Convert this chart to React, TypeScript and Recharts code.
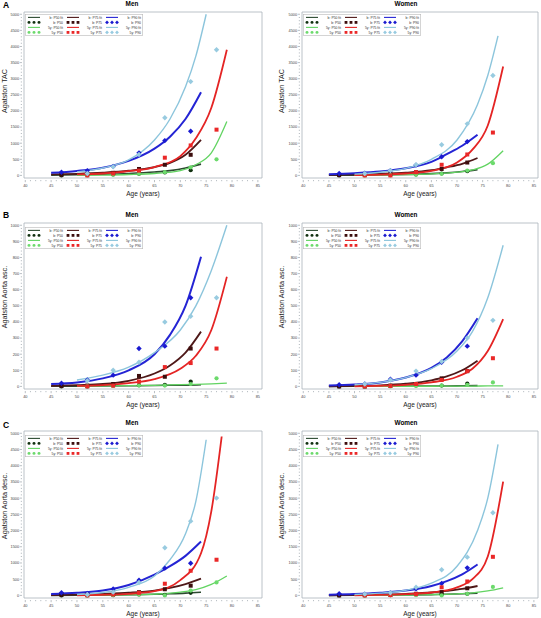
import {
  ComposedChart,
  Line,
  Scatter,
  XAxis,
  YAxis,
  ReferenceArea,
  Legend,
  Label,
} from 'recharts'

const FONT = '"Liberation Sans", Arial, Helvetica, sans-serif'

type Pct = 'p50' | 'p75' | 'p90'
type Set3 = Record<Pct, number[]>

const PCTS: Pct[] = ['p50', 'p75', 'p90']
const PCT_LABELS = ['P50', 'P75', 'P90']

// ages
const FIT_AGES_B = [45, 50, 55, 60, 65, 68, 71, 74]
const FIT_AGES_5Y = [50, 55, 60, 65, 70, 73, 76, 79]
const FIT_AGES_5Y_TO78 = [50, 55, 60, 65, 70, 74, 76, 78]
const FIT_AGES_5Y_TO75 = [50, 55, 60, 65, 68, 71, 73, 75]
const PT_AGES_B = [47, 52, 57, 62, 67, 72]
const PT_AGES_5Y = [52, 57, 62, 67, 72, 77]

const X_TICKS = [40, 45, 50, 55, 60, 65, 70, 75, 80, 85]
const Y_TICKS_5000 = [0, 500, 1000, 1500, 2000, 2500, 3000, 3500, 4000, 4500, 5000]
const Y_TICKS_1000 = [0, 100, 200, 300, 400, 500, 600, 700, 800, 900, 1000]

// A - Agatston TAC, men
const tacMenFitB: Set3 = {
  p50: [10, 20, 35, 60, 105, 150, 230, 350],
  p75: [30, 50, 85, 145, 260, 390, 640, 1100],
  p90: [80, 140, 240, 450, 830, 1200, 1750, 2580],
}
const tacMenFit5y: Set3 = {
  p50: [5, 12, 28, 60, 150, 330, 700, 1670],
  p75: [30, 60, 130, 260, 600, 1150, 2100, 3900],
  p90: [110, 230, 480, 1100, 1750, 2750, 3700, 5000],
}
const tacMenPtsB: Set3 = {
  p50: [0, 10, 30, 50, 90, 160],
  p75: [20, 40, 80, 200, 330, 640],
  p90: [100, 150, 280, 700, 1080, 1370],
}
const tacMenPts5y: Set3 = {
  p50: [0, 20, 50, 100, 250, 500],
  p75: [0, 60, 150, 550, 930, 1420],
  p90: [60, 270, 650, 1790, 2910, 3900],
}

// A - Agatston TAC, women
const tacWomenFitB: Set3 = {
  p50: [5, 10, 18, 30, 55, 80, 120, 180],
  p75: [15, 30, 50, 85, 160, 250, 360, 540],
  p90: [40, 70, 120, 220, 420, 660, 920, 1260],
}
const tacWomenFit5y: Set3 = {
  p50: [5, 10, 25, 45, 100, 170, 350, 765],
  p75: [10, 25, 60, 140, 400, 800, 1550, 3380],
  p90: [40, 100, 220, 500, 1100, 2200, 3100, 4330],
}
const tacWomenPtsB: Set3 = {
  p50: [0, 5, 10, 30, 60, 130],
  p75: [10, 20, 40, 100, 200, 400],
  p90: [60, 70, 150, 320, 580, 1050],
}
const tacWomenPts5y: Set3 = {
  p50: [0, 10, 20, 50, 150, 380],
  p75: [0, 0, 100, 330, 650, 1330],
  p90: [60, 150, 330, 950, 1600, 3100],
}

// B - ascending aorta, men
const ascMenFitB: Set3 = {
  p50: [1, 2, 3, 4, 6, 7, 8, 10],
  p75: [3, 8, 15, 35, 80, 130, 210, 340],
  p90: [15, 25, 50, 100, 200, 320, 500, 805],
}
const ascMenFit5y: Set3 = {
  p50: [2, 3, 5, 7, 11, 13, 16, 20],
  p75: [3, 8, 20, 45, 110, 190, 350, 680],
  p90: [40, 70, 120, 210, 350, 500, 720, 1000],
}
const ascMenPtsB: Set3 = {
  p50: [0, 0, 5, 8, 10, 30],
  p75: [3, 5, 15, 65, 60, 235],
  p90: [20, 40, 70, 235, 250, 550],
}
const ascMenPts5y: Set3 = {
  p50: [0, 3, 5, 5, 15, 50],
  p75: [0, 5, 30, 120, 145, 235],
  p90: [35, 100, 150, 400, 435, 550],
}

// B - ascending aorta, women
const ascWomenFitB: Set3 = {
  p50: [0, 1, 1, 2, 3, 3, 4, 5],
  p75: [1, 3, 7, 17, 38, 62, 100, 160],
  p90: [5, 12, 25, 55, 115, 180, 280, 423],
}
const ascWomenFit5y: Set3 = {
  p50: [0, 0, 1, 1, 2, 2, 3, 3],
  p75: [1, 4, 10, 25, 60, 110, 220, 418],
  p90: [10, 25, 55, 110, 220, 340, 550, 876],
}
const ascWomenPtsB: Set3 = {
  p50: [0, 0, 3, 5, 5, 18],
  p75: [0, 0, 5, 15, 50, 95],
  p90: [10, 15, 45, 70, 150, 250],
}
const ascWomenPts5y: Set3 = {
  p50: [0, 0, 3, 5, 10, 25],
  p75: [0, 3, 15, 40, 95, 175],
  p90: [15, 40, 95, 155, 300, 410],
}

// C - descending aorta, men
const descMenFitB: Set3 = {
  p50: [2, 5, 10, 20, 35, 50, 70, 100],
  p75: [10, 25, 50, 85, 150, 230, 350, 515],
  p90: [40, 80, 150, 320, 640, 900, 1220, 1660],
}
const descMenFit5y: Set3 = {
  p50: [5, 10, 20, 40, 100, 180, 340, 600],
  p75: [5, 20, 50, 130, 470, 1300, 2600, 4900],
  p90: [30, 90, 250, 600, 1100, 1900, 2900, 4800],
}
const descMenPtsB: Set3 = {
  p50: [0, 0, 5, 30, 20, 80],
  p75: [20, 30, 60, 100, 190, 300],
  p90: [80, 60, 200, 470, 840, 990],
}
const descMenPts5y: Set3 = {
  p50: [0, 10, 20, 0, 150, 400],
  p75: [0, 30, 80, 360, 760, 1100],
  p90: [30, 100, 400, 1470, 2290, 3000],
}

// C - descending aorta, women
const descWomenFitB: Set3 = {
  p50: [2, 5, 8, 15, 25, 35, 50, 70],
  p75: [5, 15, 30, 50, 90, 140, 200, 290],
  p90: [20, 40, 80, 150, 290, 440, 650, 955],
}
const descWomenFit5y: Set3 = {
  p50: [2, 5, 10, 25, 50, 80, 140, 235],
  p75: [5, 15, 40, 90, 250, 500, 1200, 3510],
  p90: [30, 70, 160, 380, 900, 2000, 3000, 4660],
}
const descWomenPtsB: Set3 = {
  p50: [0, 0, 5, 20, 30, 50],
  p75: [0, 10, 20, 50, 100, 220],
  p90: [50, 40, 80, 200, 370, 850],
}
const descWomenPts5y: Set3 = {
  p50: [0, 5, 10, 0, 50, 260],
  p75: [0, 10, 40, 250, 430, 1190],
  p90: [40, 80, 250, 790, 1180, 2550],
}

const FIT_B_COLOR: Record<Pct, string> = { p50: '#2c4a30', p75: '#4e1818', p90: '#2424d4' }
const FIT_5Y_COLOR: Record<Pct, string> = { p50: '#62d462', p75: '#e42424', p90: '#8cc5dc' }
const MARK_B_COLOR: Record<Pct, string> = { p50: '#10300f', p75: '#3c0d0d', p90: '#1a1ad0' }
const MARK_5Y_COLOR: Record<Pct, string> = { p50: '#6cda6c', p75: '#ea2828', p90: '#98cbe0' }
const FIT_B_WIDTH: Record<Pct, number> = { p50: 1.6, p75: 1.8, p90: 2 }
const FIT_5Y_WIDTH: Record<Pct, number> = { p50: 1.3, p75: 1.8, p90: 1.4 }
const SHAPE: Record<Pct, string> = { p50: 'circle', p75: 'square', p90: 'diamond' }

const X_DOMAIN: [number, number] = [39.75, 85.8]
const FRAME = '#a9b2ba'

const COLS = [
  { left: 0, width: 270, yAxisW: 24, right: 8, titleX: 132, yLabelX: 4 },
  { left: 270, width: 271, yAxisW: 32, right: 3, titleX: 136, yLabelX: 11.7 },
]
const ROWS = [
  { top: 0, height: 200, mTop: 12, axisH: 22, titleY: 6, letterY: 7.6, xLabelY: 193.5, yLabelY: 91, legendDy: 1.5 },
  { top: 200, height: 210, mTop: 23, axisH: 21, titleY: 17, letterY: 17.5, xLabelY: 204, yLabelY: 97, legendDy: 3.5 },
  { top: 408, height: 210, mTop: 23, axisH: 20, titleY: 17.3, letterY: 20, xLabelY: 205, yLabelY: 98, legendDy: 3.5 },
]

const AGES_5Y_STD: Record<Pct, number[]> = { p50: FIT_AGES_5Y, p75: FIT_AGES_5Y, p90: FIT_AGES_5Y }

const PANELS = [
  { letter: 'A', title: 'Men', yLabel: 'Agatston TAC', row: 0, col: 0, yTicks: Y_TICKS_5000, yMinor: 100, yDomain: [-80, 5070],
    fitB: tacMenFitB, fit5y: tacMenFit5y, ptsB: tacMenPtsB, pts5y: tacMenPts5y,
    ages5y: { p50: FIT_AGES_5Y, p75: FIT_AGES_5Y, p90: FIT_AGES_5Y_TO75 } },
  { letter: '', title: 'Women', yLabel: 'Agatston TAC', row: 0, col: 1, yTicks: Y_TICKS_5000, yMinor: 100, yDomain: [-80, 5070],
    fitB: tacWomenFitB, fit5y: tacWomenFit5y, ptsB: tacWomenPtsB, pts5y: tacWomenPts5y,
    ages5y: { p50: FIT_AGES_5Y, p75: FIT_AGES_5Y, p90: FIT_AGES_5Y_TO78 } },
  { letter: 'B', title: 'Men', yLabel: 'Agatston Aorta asc.', row: 1, col: 0, yTicks: Y_TICKS_1000, yMinor: 20, yDomain: [-16, 1014],
    fitB: ascMenFitB, fit5y: ascMenFit5y, ptsB: ascMenPtsB, pts5y: ascMenPts5y, ages5y: AGES_5Y_STD },
  { letter: '', title: 'Women', yLabel: 'Agatston Aorta asc.', row: 1, col: 1, yTicks: Y_TICKS_1000, yMinor: 20, yDomain: [-16, 1014],
    fitB: ascWomenFitB, fit5y: ascWomenFit5y, ptsB: ascWomenPtsB, pts5y: ascWomenPts5y, ages5y: AGES_5Y_STD },
  { letter: 'C', title: 'Men', yLabel: 'Agatston Aorta desc.', row: 2, col: 0, yTicks: Y_TICKS_5000, yMinor: 100, yDomain: [-80, 5070],
    fitB: descMenFitB, fit5y: descMenFit5y, ptsB: descMenPtsB, pts5y: descMenPts5y,
    ages5y: { p50: FIT_AGES_5Y, p75: FIT_AGES_5Y_TO78, p90: FIT_AGES_5Y_TO75 } },
  { letter: '', title: 'Women', yLabel: 'Agatston Aorta desc.', row: 2, col: 1, yTicks: Y_TICKS_5000, yMinor: 100, yDomain: [-80, 5070],
    fitB: descWomenFitB, fit5y: descWomenFit5y, ptsB: descWomenPtsB, pts5y: descWomenPts5y,
    ages5y: { p50: FIT_AGES_5Y, p75: FIT_AGES_5Y, p90: FIT_AGES_5Y_TO78 } },
]

const zip = (ages: number[], vals: number[]) => ages.map((x, i) => ({ x, y: vals[i] }))

const range = (from: number, to: number, step: number) => {
  const out: number[] = []
  for (let v = from; v <= to + 1e-9; v += step) out.push(v)
  return out
}
const X_ALL = range(X_TICKS[0], X_TICKS[X_TICKS.length - 1], 1)

function Marker({ cx, cy, shape, color, s = 1 }: { cx?: number; cy?: number; shape: string; color: string; s?: number }) {
  if (cx == null || cy == null) return null
  if (shape === 'circle') return <circle cx={cx} cy={cy} r={2.1 * s} fill={color} />
  if (shape === 'square') {
    const h = 2 * s
    return <rect x={cx - h} y={cy - h} width={2 * h} height={2 * h} fill={color} />
  }
  const d = 2.7 * s
  return <path d={`M${cx},${cy - d}L${cx + d},${cy}L${cx},${cy + d}L${cx - d},${cy}Z`} fill={color} />
}

const XTick = (props: any) => {
  const { x, y, payload } = props
  const v = payload.value
  const major = v % 5 === 0
  return (
    <g>
      <line x1={x} x2={x} y1={y} y2={y + (major ? 2.2 : 1.2)} stroke="#8c959d" strokeWidth={0.6} />
      {major && (
        <text x={x} y={y + 7} textAnchor="middle" fontSize={3.9} fill="#444" fontFamily={FONT}>
          {v}
        </text>
      )}
    </g>
  )
}

const makeYTick = (majorStep: number) => (props: any) => {
  const { x, y, payload } = props
  const v = payload.value
  const major = v % majorStep === 0
  return (
    <g>
      <line x1={x - (major ? 2.2 : 1.2)} x2={x} y1={y} y2={y} stroke="#8c959d" strokeWidth={0.6} />
      {major && (
        <text x={x - 2.8} y={y + 1.4} textAnchor="end" fontSize={3.9} fill="#444" fontFamily={FONT}>
          {v}
        </text>
      )}
    </g>
  )
}

function LegendBox() {
  const rowY = [3.4, 8.4, 13.4, 18.4]
  return (
    <svg width={118} height={22} style={{ display: 'block' }}>
      <rect x={0.3} y={0.3} width={117.4} height={21.4} fill="#fff" stroke="#b8b8b8" strokeWidth={0.6} />
      {PCTS.map((p, c) => {
        const x0 = 1 + c * 39
        const label = PCT_LABELS[c]
        const text = (r: number, t: string) => (
          <text x={x0 + 37} y={rowY[r] + 1.2} textAnchor="end" fontSize={3.4} fill="#333" fontFamily={FONT}>
            {t}
          </text>
        )
        const dots = (r: number, color: string) =>
          [3, 8, 13].map((dx) => (
            <Marker key={dx} cx={x0 + dx} cy={rowY[r]} shape={SHAPE[p]} color={color} s={0.7} />
          ))
        return (
          <g key={p}>
            <line x1={x0 + 2} x2={x0 + 14} y1={rowY[0]} y2={rowY[0]} stroke={FIT_B_COLOR[p]} strokeWidth={1.1} />
            {text(0, `b: ${label} fit`)}
            {dots(1, MARK_B_COLOR[p])}
            {text(1, `b: ${label}`)}
            <line x1={x0 + 2} x2={x0 + 14} y1={rowY[2]} y2={rowY[2]} stroke={FIT_5Y_COLOR[p]} strokeWidth={1.1} />
            {text(2, `5y: ${label} fit`)}
            {dots(3, MARK_5Y_COLOR[p])}
            {text(3, `5y: ${label}`)}
          </g>
        )
      })}
    </svg>
  )
}

function Panel({ cfg }: { cfg: (typeof PANELS)[number] }) {
  const col = COLS[cfg.col]
  const row = ROWS[cfg.row]
  const plotLeft = col.yAxisW
  const plotRight = col.width - col.right
  const plotTop = row.mTop
  const yAll = range(cfg.yTicks[0], cfg.yTicks[cfg.yTicks.length - 1], cfg.yMinor)
  const majorStep = cfg.yTicks[1] - cfg.yTicks[0]
  const YTick = makeYTick(majorStep)

  return (
    <div style={{ position: 'absolute', left: col.left, top: row.top, width: col.width, height: row.height }}>
      <ComposedChart
        width={col.width}
        height={row.height}
        margin={{ top: row.mTop, right: col.right, bottom: 0, left: 0 }}
      >
        <XAxis
          type="number"
          dataKey="x"
          domain={X_DOMAIN}
          allowDataOverflow
          ticks={X_ALL}
          interval={0}
          tickSize={0}
          tickLine={false}
          axisLine={false}
          height={row.axisH}
          tick={XTick}
        >
          <Label
            content={() => (
              <text
                x={(plotLeft + plotRight) / 2}
                y={row.xLabelY}
                textAnchor="middle"
                dominantBaseline="central"
                fontSize={6.5}
                fill="#222"
                fontFamily={FONT}
              >
                Age (years)
              </text>
            )}
          />
        </XAxis>
        <YAxis
          type="number"
          dataKey="y"
          domain={cfg.yDomain}
          allowDataOverflow
          ticks={yAll}
          interval={0}
          tickSize={0}
          tickLine={false}
          axisLine={false}
          width={col.yAxisW}
          tick={YTick}
        >
          <Label
            content={() => (
              <text
                x={col.yLabelX}
                y={row.yLabelY}
                transform={`rotate(-90 ${col.yLabelX} ${row.yLabelY})`}
                textAnchor="middle"
                dominantBaseline="central"
                fontSize={7.2}
                fill="#222"
                fontFamily={FONT}
              >
                {cfg.yLabel}
              </text>
            )}
          />
        </YAxis>
        <ReferenceArea
          x1={X_DOMAIN[0]}
          x2={X_DOMAIN[1]}
          y1={cfg.yDomain[0]}
          y2={cfg.yDomain[1]}
          fill="none"
          stroke={FRAME}
          strokeWidth={0.8}
          ifOverflow="visible"
        />
        {PCTS.map((p) => (
          <Line
            key={`fb-${p}`}
            name={`b: ${p} fit`}
            data={zip(FIT_AGES_B, cfg.fitB[p])}
            dataKey="y"
            type="monotone"
            stroke={FIT_B_COLOR[p]}
            strokeWidth={FIT_B_WIDTH[p]}
            dot={false}
            activeDot={false}
            isAnimationActive={false}
          />
        ))}
        {PCTS.map((p) => (
          <Line
            key={`f5-${p}`}
            name={`5y: ${p} fit`}
            data={zip(cfg.ages5y[p], cfg.fit5y[p])}
            dataKey="y"
            type="monotone"
            stroke={FIT_5Y_COLOR[p]}
            strokeWidth={FIT_5Y_WIDTH[p]}
            dot={false}
            activeDot={false}
            isAnimationActive={false}
          />
        ))}
        {PCTS.map((p) => (
          <Scatter
            key={`pb-${p}`}
            name={`b: ${p}`}
            data={zip(PT_AGES_B, cfg.ptsB[p])}
            dataKey="y"
            isAnimationActive={false}
            shape={(s: any) => <Marker cx={s.cx} cy={s.cy} shape={SHAPE[p]} color={MARK_B_COLOR[p]} />}
          />
        ))}
        {PCTS.map((p) => (
          <Scatter
            key={`p5-${p}`}
            name={`5y: ${p}`}
            data={zip(PT_AGES_5Y, cfg.pts5y[p])}
            dataKey="y"
            isAnimationActive={false}
            shape={(s: any) => <Marker cx={s.cx} cy={s.cy} shape={SHAPE[p]} color={MARK_5Y_COLOR[p]} />}
          />
        ))}
        <Legend
          layout="vertical"
          align="center"
          verticalAlign="middle"
          wrapperStyle={{ left: plotLeft + 1, top: plotTop + row.legendDy, width: 118, height: 22 }}
          content={() => <LegendBox />}
        />
      </ComposedChart>
      <svg
        width={col.width}
        height={row.height}
        style={{ position: 'absolute', left: 0, top: 0, pointerEvents: 'none' }}
      >
        <text x={col.titleX} y={row.titleY} textAnchor="middle" fontSize={6.4} fontWeight="bold" fill="#000" fontFamily={FONT}>
          {cfg.title}
        </text>
        {cfg.letter && (
          <text x={3} y={row.letterY} fontSize={8.5} fontWeight="bold" fill="#000" fontFamily={FONT}>
            {cfg.letter}
          </text>
        )}
      </svg>
    </div>
  )
}

export default function App() {
  return (
    <div style={{ position: 'absolute', left: 0, top: 0, width: 541, height: 618, background: '#fff', overflow: 'hidden' }}>
      {PANELS.map((cfg) => (
        <Panel key={`${cfg.row}-${cfg.col}`} cfg={cfg} />
      ))}
    </div>
  )
}
